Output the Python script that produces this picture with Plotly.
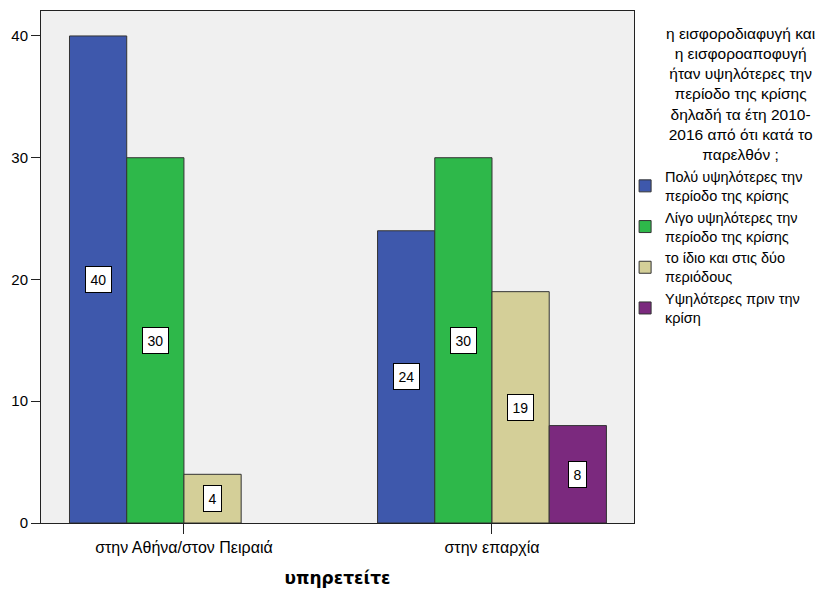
import plotly.graph_objects as go

# Grouped bar chart: perceived contribution evasion by place of service
categories = ["στην Αθήνα/στον Πειραιά", "στην επαρχία"]

series_names = [
    "Πολύ υψηλότερες την<br>περίοδο της κρίσης",
    "Λίγο υψηλότερες την<br>περίοδο της κρίσης",
    "το ίδιο και στις δύο<br>περιόδους",
    "Υψηλότερες πριν την<br>κρίση",
]
very_higher = [40, 24]
little_higher = [30, 30]
same_both = [4, 19]
higher_before = [None, 8]
series_values = [very_higher, little_higher, same_both, higher_before]

colors = ["#3E58AC", "#2EB84A", "#D4CF98", "#7B297E"]

legend_title_lines = [
    "η εισφοροδιαφυγή και",
    "η εισφοροαποφυγή",
    "ήταν υψηλότερες την",
    "περίοδο της κρίσης",
    "δηλαδή τα έτη 2010-",
    "2016 από ότι κατά το",
    "παρελθόν ;",
]

x_title = "υπηρετείτε"
y_ticks = [0, 10, 20, 30, 40]

FONT = "Liberation Sans, Arial, sans-serif"
BARGAP = 0.257
n_series = len(series_values)
slot = (1 - BARGAP) / n_series

fig = go.Figure()
for name, vals, col in zip(series_names, series_values, colors):
    fig.add_trace(go.Bar(
        x=categories,
        y=vals,
        name=name,
        marker=dict(color=col, line=dict(color="#333333", width=1)),
        hoverinfo="skip",
    ))

# value labels in white boxes at the middle of each bar
annotations = []
for k, vals in enumerate(series_values):
    offset = (k - (n_series - 1) / 2) * slot
    for i, v in enumerate(vals):
        if v is None:
            continue
        annotations.append(dict(
            x=i + offset, y=v / 2, xref="x", yref="y",
            text=str(v), showarrow=False,
            font=dict(family=FONT, size=14, color="#000000"),
            bgcolor="#FFFFFF", bordercolor="#000000", borderwidth=1, borderpad=4.5,
        ))

# legend heading, centred above the legend entries
annotations.append(dict(
    x=1.1804, y=0.976, xref="paper", yref="paper",
    xanchor="center", yanchor="top", align="center",
    text="<br>".join(legend_title_lines), showarrow=False,
    font=dict(family=FONT, size=15.5, color="#000000"),
))

fig.update_layout(
    width=834, height=594,
    margin=dict(l=41, r=200, t=10, b=70),
    paper_bgcolor="#FFFFFF",
    plot_bgcolor="#F0F0F0",
    barmode="group",
    bargap=BARGAP,
    bargroupgap=0,
    font=dict(family=FONT, size=14, color="#000000"),
    annotations=annotations,
    legend=dict(
        x=0.985, xanchor="left", y=0.708, yanchor="top",
        font=dict(family=FONT, size=14.5, color="#000000"),
        bgcolor="rgba(0,0,0,0)", valign="middle",
        itemclick=False, itemdoubleclick=False,
    ),
    showlegend=True,
)

fig.update_xaxes(
    type="category",
    range=[-0.464, 1.461],
    showline=True, linecolor="#222222", linewidth=1, mirror=True,
    ticks="outside", ticklen=10, tickcolor="#222222",
    tickfont=dict(family=FONT, size=16, color="#000000"),
    showgrid=False, zeroline=False,
    title=dict(text="<b>" + x_title + "</b>",
               font=dict(family="DejaVu Sans, sans-serif", size=17, color="#000000"),
               standoff=16),
)
fig.update_yaxes(
    range=[0, 42.05],
    tickvals=y_ticks,
    showline=True, linecolor="#222222", linewidth=1, mirror=True,
    ticks="outside", ticklen=9, tickcolor="#222222",
    tickfont=dict(family=FONT, size=15, color="#000000"),
    showgrid=False, zeroline=False,
)

fig.write_html("out.html")
